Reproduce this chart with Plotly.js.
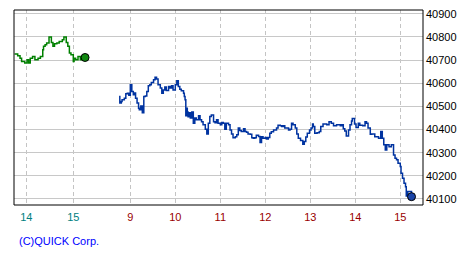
<!DOCTYPE html>
<html><head><meta charset="utf-8">
<script src="https://cdn.plot.ly/plotly-3.0.1.min.js"></script>
<style>html,body{margin:0;padding:0;background:#fff}#c{width:475px;height:260px}</style>
</head><body><div id="c"></div>
<script>
// previous day session (last part), time and price
var prevTime = ["13:45","13:49","13:52","13:54","13:58","14:01","14:03","14:05","14:08","14:11","14:15","14:18","14:21","14:22","14:24","14:26","14:29","14:32","14:34","14:36","14:39","14:42","14:46","14:48","14:51","14:53","14:55","14:57","15:00","15:01","15:03","15:06","15:09","15:11","15:15"];
var prevPrice = [40726,40718,40708,40694,40687,40701,40687,40708,40715,40701,40708,40715,40744,40759,40766,40773,40799,40776,40759,40770,40773,40780,40788,40799,40776,40759,40730,40723,40694,40708,40701,40715,40701,40713,40711];

// today's session
var todayTime = ["8:45","8:46","8:48","8:49","8:52","8:54","8:56","8:58","9:00","9:02","9:04","9:05","9:07","9:09","9:11","9:12","9:14","9:16","9:18","9:20","9:22","9:24","9:26","9:28","9:31","9:33","9:35","9:37","9:40","9:42","9:44","9:46","9:48","9:51","9:53","9:55","9:57","10:00","10:02","10:04","10:06","10:08","10:11","10:12","10:13","10:14","10:15","10:16","10:17","10:19","10:20","10:22","10:24","10:26","10:28","10:31","10:33","10:35","10:37","10:40","10:42","10:44","10:46","10:48","10:51","10:53","10:55","10:57","11:00","11:02","11:04","11:06","11:08","11:11","11:13","11:15","11:17","11:20","11:22","11:24","11:26","11:28","11:31","11:33","11:35","11:37","11:40","11:42","11:44","11:46","11:48","11:51","11:53","11:55","11:57","12:00","12:02","12:04","12:06","12:08","12:11","12:13","12:15","12:17","12:20","12:22","12:24","12:26","12:31","12:33","12:35","12:37","12:40","12:42","12:44","12:47","12:50","12:52","12:54","12:56","12:59","13:01","13:03","13:04","13:06","13:09","13:12","13:14","13:17","13:22","13:25","13:28","13:31","13:35","13:40","13:42","13:44","13:46","13:48","13:51","13:53","13:55","13:56","13:59","14:01","14:04","14:06","14:10","14:13","14:15","14:17","14:20","14:22","14:26","14:31","14:34","14:36","14:38","14:40","14:42","14:45","14:48","14:51","14:53","14:55","14:57","15:00","15:01","15:03","15:05","15:07","15:08","15:10","15:12","15:15"];
var todayPrice = [40542,40514,40521,40528,40535,40554,40557,40548,40593,40564,40550,40558,40535,40514,40492,40485,40502,40472,40542,40545,40564,40589,40593,40603,40615,40626,40618,40593,40579,40557,40571,40583,40568,40586,40579,40589,40571,40593,40610,40586,40574,40567,40557,40542,40528,40459,40492,40476,40455,40472,40450,40476,40427,40450,40442,40459,40442,40434,40420,40401,40381,40427,40456,40463,40434,40429,40442,40427,40420,40430,40427,40401,40427,40420,40398,40381,40364,40369,40377,40406,40396,40391,40403,40391,40388,40381,40379,40364,40362,40364,40375,40370,40344,40369,40362,40366,40359,40366,40384,40390,40398,40398,40406,40418,40416,40413,40416,40406,40398,40401,40427,40420,40407,40381,40362,40353,40336,40348,40368,40384,40398,40406,40424,40413,40384,40386,40391,40413,40424,40420,40434,40427,40416,40420,40416,40420,40403,40394,40372,40398,40420,40437,40448,40424,40409,40427,40418,40416,40433,40427,40406,40379,40381,40369,40362,40391,40362,40334,40312,40334,40326,40334,40290,40276,40269,40254,40240,40211,40190,40168,40153,40113,40132,40132,40110];

var prevTicks = ["14","15"];
var todayTicks = ["9","10","11","12","13","14","15"];
var priceTicks = [40100,40200,40300,40400,40500,40600,40700,40800,40900];

function toMin(s){var p=s.split(":");return (+p[0])*60+(+p[1]);}
var px = prevTime.map(toMin), tx = todayTime.map(toMin);

var gridX = {showgrid:true, gridcolor:'#c4c4c4', griddash:'4px,3px', gridwidth:1, zeroline:false, showline:false, ticks:'', ticklabelstandoff:4, fixedrange:true};

var data = [
  {x:px, y:prevPrice, xaxis:'x', yaxis:'y', type:'scatter', mode:'lines', line:{color:'#008000', width:1.5, shape:'hv'}, hoverinfo:'skip'},
  {x:tx, y:todayPrice, xaxis:'x2', yaxis:'y', type:'scatter', mode:'lines', line:{color:'#0033a0', width:1.5, shape:'hv'}, hoverinfo:'skip'},
  {x:[px[px.length-1]], y:[prevPrice[prevPrice.length-1]], xaxis:'x', yaxis:'y', type:'scatter', mode:'markers', marker:{color:'#108810', size:8, line:{color:'#000', width:1}}, hoverinfo:'skip'},
  {x:[tx[tx.length-1]], y:[todayPrice[todayPrice.length-1]], xaxis:'x2', yaxis:'y', type:'scatter', mode:'markers', marker:{color:'#1a44a8', size:8, line:{color:'#000', width:1}}, hoverinfo:'skip'}
];

var split = 0.2103;
var layout = {
  width:475, height:260, showlegend:false,
  paper_bgcolor:'#fff', plot_bgcolor:'#fff',
  margin:{l:14, r:52, t:10, b:55, pad:0},
  font:{family:'Liberation Sans, Arial, sans-serif', size:11, color:'#000'},
  xaxis: Object.assign({}, gridX, {domain:[0, split], range:[824.3, 934.1], anchor:'y',
    tickvals:prevTicks.map(function(h){return (+h)*60;}), ticktext:prevTicks,
    tickfont:{color:'#008080', size:11}}),
  xaxis2: Object.assign({}, gridX, {domain:[split, 1], range:[499.6, 930.3], anchor:'y',
    tickvals:todayTicks.map(function(h){return (+h)*60;}), ticktext:todayTicks,
    tickfont:{color:'#990000', size:11}}),
  yaxis: {anchor:'x2', side:'right', range:[40074, 40916], tickvals:priceTicks,
    ticktext:priceTicks.map(String), showgrid:true, gridcolor:'#c8c8c8', gridwidth:1,
    zeroline:false, showline:false, ticks:'', ticklabelstandoff:2, tickfont:{size:11, color:'#000'}, fixedrange:true},
  shapes:[{type:'rect', xref:'paper', yref:'paper', x0:0, x1:1, y0:0, y1:1, line:{color:'#000', width:1}, fillcolor:'rgba(0,0,0,0)'}],
  annotations:[{xref:'paper', yref:'paper', x:0.0073, y:-0.183, xanchor:'left', yanchor:'middle',
    text:'(C)QUICK Corp.', showarrow:false, font:{color:'#0000ff', size:11}}]
};
Plotly.newPlot('c', data, layout, {staticPlot:true, displayModeBar:false});
</script></body></html>
